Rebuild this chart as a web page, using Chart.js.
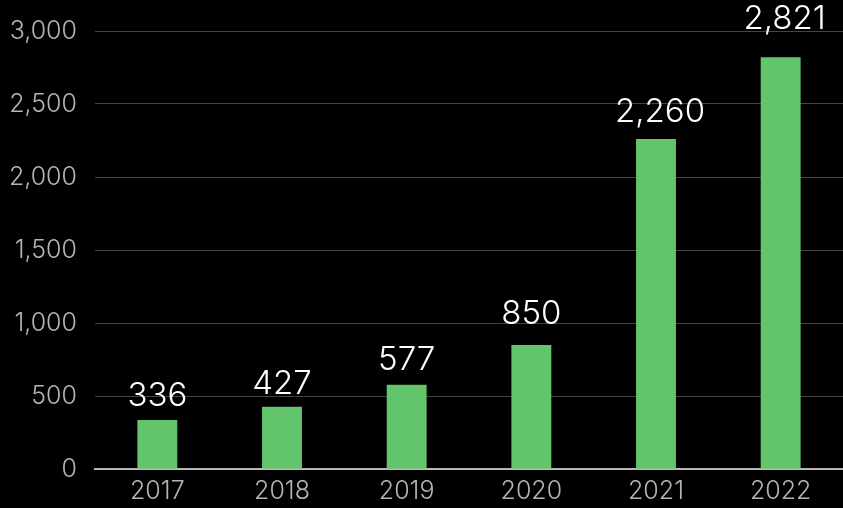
<!DOCTYPE html>
<html>
<head>
<meta charset="utf-8">
<script src="https://cdn.jsdelivr.net/npm/chart.js@4/dist/chart.umd.min.js"></script>
<style>
  html, body { margin: 0; padding: 0; background: #000; }
  #wrap { width: 843px; height: 508px; }
</style>
</head>
<body>
<div id="wrap"><canvas id="barchart"></canvas></div>
<script>
const years = ['2017', '2018', '2019', '2020', '2021', '2022'];
const counts = [336, 427, 577, 850, 2260, 2821];
const yTicks = [0, 500, 1000, 1500, 2000, 2500, 3000];

const FONT = 'Inter, "Noto Sans", sans-serif';

// writes each bar's value above it (space between text baseline and bar top, px)
const valueLabels = {
    id: 'valueLabels',
    afterDatasetsDraw(chart, args, opts) {
        const c = chart.ctx;
        const meta = chart.getDatasetMeta(0);
        c.save();
        c.fillStyle = '#ffffff';
        c.font = '300 33px ' + FONT;
        c.textAlign = 'center';
        c.textBaseline = 'alphabetic';
        meta.data.forEach((bar, i) => {
            const text = counts[i].toLocaleString('en-US');
            const nudge = text.includes(',') ? 4 : 0;
            c.fillText(text, bar.x + nudge, bar.y - opts.gaps[i]);
        });
        c.restore();
    }
};

const ctx = document.getElementById('barchart').getContext('2d');
const myChart = new Chart(ctx, {
    type: 'bar',
    data: {
        labels: years,
        datasets: [{
            data: counts,
            backgroundColor: '#62c46b',
            barPercentage: 0.32,
            categoryPercentage: 1
        }]
    },
    options: {
        responsive: true,
        maintainAspectRatio: false,
        animation: false,
        layout: { padding: { top: 31, right: 0, left: 0, bottom: 0 } },
        plugins: {
            legend: { display: false },
            tooltip: { enabled: false },
            valueLabels: { gaps: [14, 13, 15, 21, 17, 28] }
        },
        scales: {
            x: {
                afterFit(axis) { axis.height = 39; },
                grid: { display: false, drawTicks: false },
                border: { color: '#b8b8b8', width: 2 },
                ticks: { color: '#b4b4b4', font: { family: FONT, size: 25, weight: 300 }, padding: 7 }
            },
            y: {
                min: 0,
                max: 3000,
                afterBuildTicks(axis) {
                    axis.ticks = yTicks.map(v => ({ value: v }));
                },
                afterFit(axis) { axis.width = 95; },
                grid: { color: '#444444', lineWidth: 1, drawTicks: false },
                border: { display: false },
                ticks: {
                    color: '#b4b4b4',
                    font: { family: FONT, size: 25, weight: 300, lineHeight: 1 },
                    padding: 18,
                    callback: v => v.toLocaleString('en-US')
                }
            }
        }
    },
    plugins: [valueLabels]
});
</script>
</body>
</html>
